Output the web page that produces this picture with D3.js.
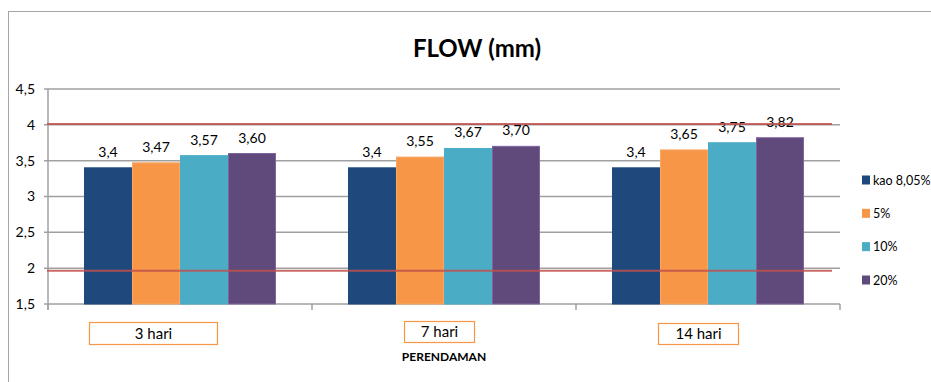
<!DOCTYPE html>
<html>
<head>
<meta charset="utf-8">
<script src="https://cdn.jsdelivr.net/npm/d3@7"></script>
<style>
  body { margin: 0; background: #fff; }
  svg { display: block; font-family: Lato, "Liberation Sans", Arial, sans-serif; }
</style>
</head>
<body>
<div id="chart"></div>
<script>
// FLOW (mm) per soaking time, grouped by mix
const categories = ["3 hari", "7 hari", "14 hari"];
const seriesNames = ["kao 8,05%", "5%", "10%", "20%"];
const seriesValues = [
  [3.40, 3.40, 3.40],
  [3.47, 3.55, 3.65],
  [3.57, 3.67, 3.75],
  [3.60, 3.70, 3.82]
];
const valueLabels = [
  ["3,4", "3,4", "3,4"],
  ["3,47", "3,55", "3,65"],
  ["3,57", "3,67", "3,75"],
  ["3,60", "3,70", "3,82"]
];
const yTicks = [1.5, 2, 2.5, 3, 3.5, 4, 4.5];
const limitLines = [4.01, 1.965];

const width = 931;
const height = 382;
const margin = { top: 89, right: 91, bottom: 78, left: 48 };

const colors = ["#1f497d", "#f79646", "#4bacc6", "#604a7b"];
const strokes = ["#1f497d", "#f9a866", "#4bacc6", "#8064a2"];

const svg = d3.select("#chart")
  .append("svg")
  .attr("width", width)
  .attr("height", height);

// chart border (right/bottom edges fall outside the picture)
svg.append("rect")
  .attr("x", 8.5)
  .attr("y", 11.5)
  .attr("width", 960)
  .attr("height", 400)
  .attr("fill", "#fff")
  .attr("stroke", "#a6a6a6")
  .attr("stroke-width", 1);

const x0 = d3.scaleBand()
  .domain(categories)
  .range([margin.left, width - margin.right])
  .paddingInner(0)
  .paddingOuter(0);

const x1 = d3.scaleBand()
  .domain(d3.range(seriesNames.length))
  .range([36, x0.bandwidth() - 36]);

const y = d3.scaleLinear()
  .domain([1.5, 4.5])
  .range([height - margin.bottom, margin.top]);

const fmt = d => String(d).replace(".", ",");

// title
svg.append("text")
  .attr("x", 477)
  .attr("y", 57)
  .attr("text-anchor", "middle")
  .style("font-size", "24px")
  .style("font-weight", "bold")
  .text("FLOW (mm)");

// gridlines
svg.append("g")
  .selectAll("line")
  .data(yTicks)
  .join("line")
  .attr("x1", margin.left - 4)
  .attr("x2", width - margin.right)
  .attr("y1", d => y(d))
  .attr("y2", d => y(d))
  .attr("stroke", "#a0a0a0")
  .attr("stroke-width", 1.5);

// y axis line + labels
svg.append("line")
  .attr("x1", margin.left)
  .attr("x2", margin.left)
  .attr("y1", y(4.5))
  .attr("y2", y(1.5) + 5)
  .attr("stroke", "#a0a0a0")
  .attr("stroke-width", 1.5);

svg.append("g")
  .selectAll("text")
  .data(yTicks)
  .join("text")
  .attr("x", 35)
  .attr("y", d => y(d))
  .attr("dy", "0.35em")
  .attr("text-anchor", "end")
  .style("font-size", "14px")
  .text(fmt);

// category boundary ticks
svg.append("g")
  .selectAll("line")
  .data(categories.map(c => x0(c)).concat([x0(categories[2]) + x0.bandwidth()]))
  .join("line")
  .attr("x1", d => d)
  .attr("x2", d => d)
  .attr("y1", y(1.5))
  .attr("y2", y(1.5) + 6)
  .attr("stroke", "#a0a0a0")
  .attr("stroke-width", 1.5);

// bars
seriesNames.forEach((name, s) => {
  svg.append("g")
    .selectAll("rect")
    .data(categories)
    .join("rect")
    .attr("x", (c) => x0(c) + x1(s) + 0.5)
    .attr("y", (c, i) => y(seriesValues[s][i]))
    .attr("width", x1.bandwidth() - 1)
    .attr("height", (c, i) => y(1.5) - y(seriesValues[s][i]))
    .attr("fill", colors[s])
    .attr("stroke", strokes[s])
    .attr("stroke-width", 1);

  svg.append("g")
    .selectAll("text")
    .data(categories)
    .join("text")
    .attr("x", (c) => x0(c) + x1(s) + x1.bandwidth() / 2)
    .attr("y", (c, i) => y(seriesValues[s][i]) - 11)
    .attr("text-anchor", "middle")
    .style("font-size", "14px")
    .text((c, i) => valueLabels[s][i]);
});

// red limit lines drawn over the bars
svg.append("g")
  .selectAll("line")
  .data(limitLines)
  .join("line")
  .attr("x1", margin.left - 1)
  .attr("x2", 832)
  .attr("y1", d => y(d))
  .attr("y2", d => y(d))
  .attr("stroke", "#c0504d")
  .attr("stroke-opacity", 0.85)
  .attr("stroke-width", 2);

// category label boxes
const boxes = [
  { x: 89.5, y: 322.5, w: 128, h: 22 },
  { x: 404.5, y: 321.5, w: 70, h: 21 },
  { x: 658.5, y: 323.5, w: 80, h: 21 }
];
categories.forEach((c, i) => {
  const b = boxes[i];
  svg.append("rect")
    .attr("x", b.x)
    .attr("y", b.y)
    .attr("width", b.w)
    .attr("height", b.h)
    .attr("fill", "#fff")
    .attr("stroke", "#f79646")
    .attr("stroke-width", 1.2);
  svg.append("text")
    .attr("x", b.x + b.w / 2)
    .attr("y", b.y + b.h / 2)
    .attr("dy", "0.36em")
    .attr("text-anchor", "middle")
    .style("font-size", "15px")
    .text(c);
});

// x axis title
svg.append("text")
  .attr("x", 444)
  .attr("y", 361)
  .attr("text-anchor", "middle")
  .style("font-size", "12px")
  .style("font-weight", "bold")
  .text("PERENDAMAN");

// legend
const legendY = d3.scalePoint()
  .domain(seriesNames)
  .range([180, 280]);

const legend = svg.append("g")
  .selectAll("g")
  .data(seriesNames)
  .join("g")
  .attr("transform", d => `translate(862,${legendY(d)})`);

legend.append("rect")
  .attr("x", 0)
  .attr("y", -4.5)
  .attr("width", 8)
  .attr("height", 9)
  .attr("fill", (d, i) => colors[i]);

legend.append("text")
  .attr("x", 11)
  .attr("y", 0)
  .attr("dy", "0.36em")
  .style("font-size", "12.5px")
  .text(d => d);
</script>
</body>
</html>
